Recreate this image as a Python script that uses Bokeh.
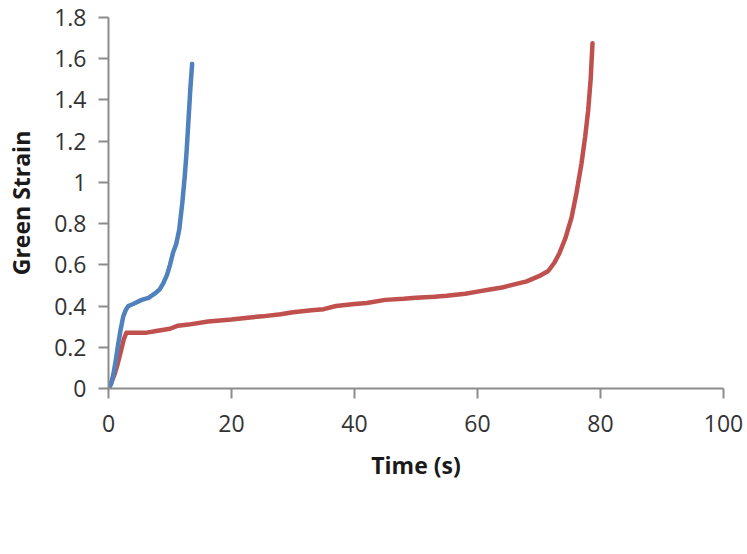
from bokeh.plotting import figure
from bokeh.models import FixedTicker, Legend, LegendItem
from bokeh.embed import file_html
from bokeh.resources import INLINE

# ---- data ----
time_60 = [0, 0.5, 1.0, 1.5, 2.0, 2.5, 2.9, 4, 6, 8, 10, 11.3, 13, 16.2, 20, 23, 25, 28,
           30, 33, 35, 37, 40, 42, 45, 48, 50, 53, 55, 58, 60, 62, 64, 66, 68, 70, 71.5,
           72.5, 73.3, 74.3, 75.3, 76.1, 76.9, 77.5, 78.0, 78.4, 78.7]
strain_60 = [0, 0.03, 0.07, 0.12, 0.18, 0.24, 0.27, 0.27, 0.27, 0.28, 0.29, 0.305, 0.31,
             0.325, 0.335, 0.345, 0.35, 0.36, 0.37, 0.38, 0.385, 0.40, 0.41, 0.415, 0.43,
             0.435, 0.44, 0.445, 0.45, 0.46, 0.47, 0.48, 0.49, 0.505, 0.52, 0.545, 0.57,
             0.61, 0.655, 0.73, 0.83, 0.95, 1.09, 1.22, 1.35, 1.5, 1.675]

time_80 = [0, 0.4, 0.8, 1.2, 1.6, 2.0, 2.4, 2.8, 3.2, 4.0, 5.4, 6.5, 7.5, 8.3, 8.9, 9.5,
           10.0, 10.5, 11.0, 11.5, 12.0, 12.4, 12.7, 13.0, 13.3, 13.6]
strain_80 = [0, 0.02, 0.07, 0.14, 0.22, 0.29, 0.35, 0.38, 0.40, 0.41, 0.43, 0.44, 0.46,
             0.48, 0.51, 0.55, 0.60, 0.66, 0.70, 0.77, 0.90, 1.03, 1.15, 1.30, 1.45, 1.575]

series_names = ["60% UTS", "80% UTS"]
series_colors = ["#C0504D", "#4F81BD"]

x_ticks = [0, 20, 40, 60, 80, 100]
y_ticks = [0, 0.2, 0.4, 0.6, 0.8, 1, 1.2, 1.4, 1.6, 1.8]
y_tick_labels = ["0", "0.2", "0.4", "0.6", "0.8", "1", "1.2", "1.4", "1.6", "1.8"]

x_title = "Time (s)"
y_title = "Green Strain"

FONT = "Open Sans"
TICK_COLOR = "#333333"
AXIS_COLOR = "#8c8c8c"

p = figure(frame_width=615, frame_height=371, x_range=(0, 100), y_range=(0, 1.8),
           output_backend="svg", toolbar_location=None,
           min_border_left=108, min_border_right=24, min_border_top=17,
           min_border_bottom=135)
p.outline_line_color = None
p.xgrid.visible = False
p.ygrid.visible = False
p.background_fill_color = "white"
p.border_fill_color = "white"

r60 = p.line(time_60, strain_60, line_color=series_colors[0], line_width=4.5,
             line_cap="round", line_join="round")
r80 = p.line(time_80, strain_80, line_color=series_colors[1], line_width=4.5,
             line_cap="round", line_join="round")

for ax in (p.xaxis[0], p.yaxis[0]):
    ax.axis_line_color = AXIS_COLOR
    ax.axis_line_width = 2
    ax.major_tick_line_color = AXIS_COLOR
    ax.major_tick_line_width = 2
    ax.major_tick_in = 0
    ax.major_tick_out = 10
    ax.minor_tick_line_color = None
    ax.major_label_text_font = FONT
    ax.major_label_text_font_size = "23px"
    ax.major_label_text_color = TICK_COLOR
    ax.axis_label_text_font = FONT
    ax.axis_label_text_font_size = "23px"
    ax.axis_label_text_font_style = "bold"
    ax.axis_label_text_color = "#1a1a1a"

p.xaxis.ticker = FixedTicker(ticks=x_ticks)
p.yaxis.ticker = FixedTicker(ticks=y_ticks)
p.yaxis.major_label_overrides = {t: s for t, s in zip(y_ticks, y_tick_labels)}
p.xaxis.axis_label = x_title
p.yaxis.axis_label = y_title
p.xaxis.major_label_standoff = 16
p.yaxis.major_label_standoff = 12
p.xaxis.axis_label_standoff = 14
p.yaxis.axis_label_standoff = 14

legend = Legend(items=[LegendItem(label=series_names[0], renderers=[r60]),
                       LegendItem(label=series_names[1], renderers=[r80])],
                location=(95, 0), orientation="horizontal",
                glyph_width=57, glyph_height=20, label_standoff=4, spacing=26,
                padding=0, margin=0, border_line_color=None,
                background_fill_alpha=0,
                label_text_font=FONT, label_text_font_size="23px",
                label_text_color=TICK_COLOR)
p.add_layout(legend, "below")

open("out.html", "w").write(file_html(p, INLINE))
